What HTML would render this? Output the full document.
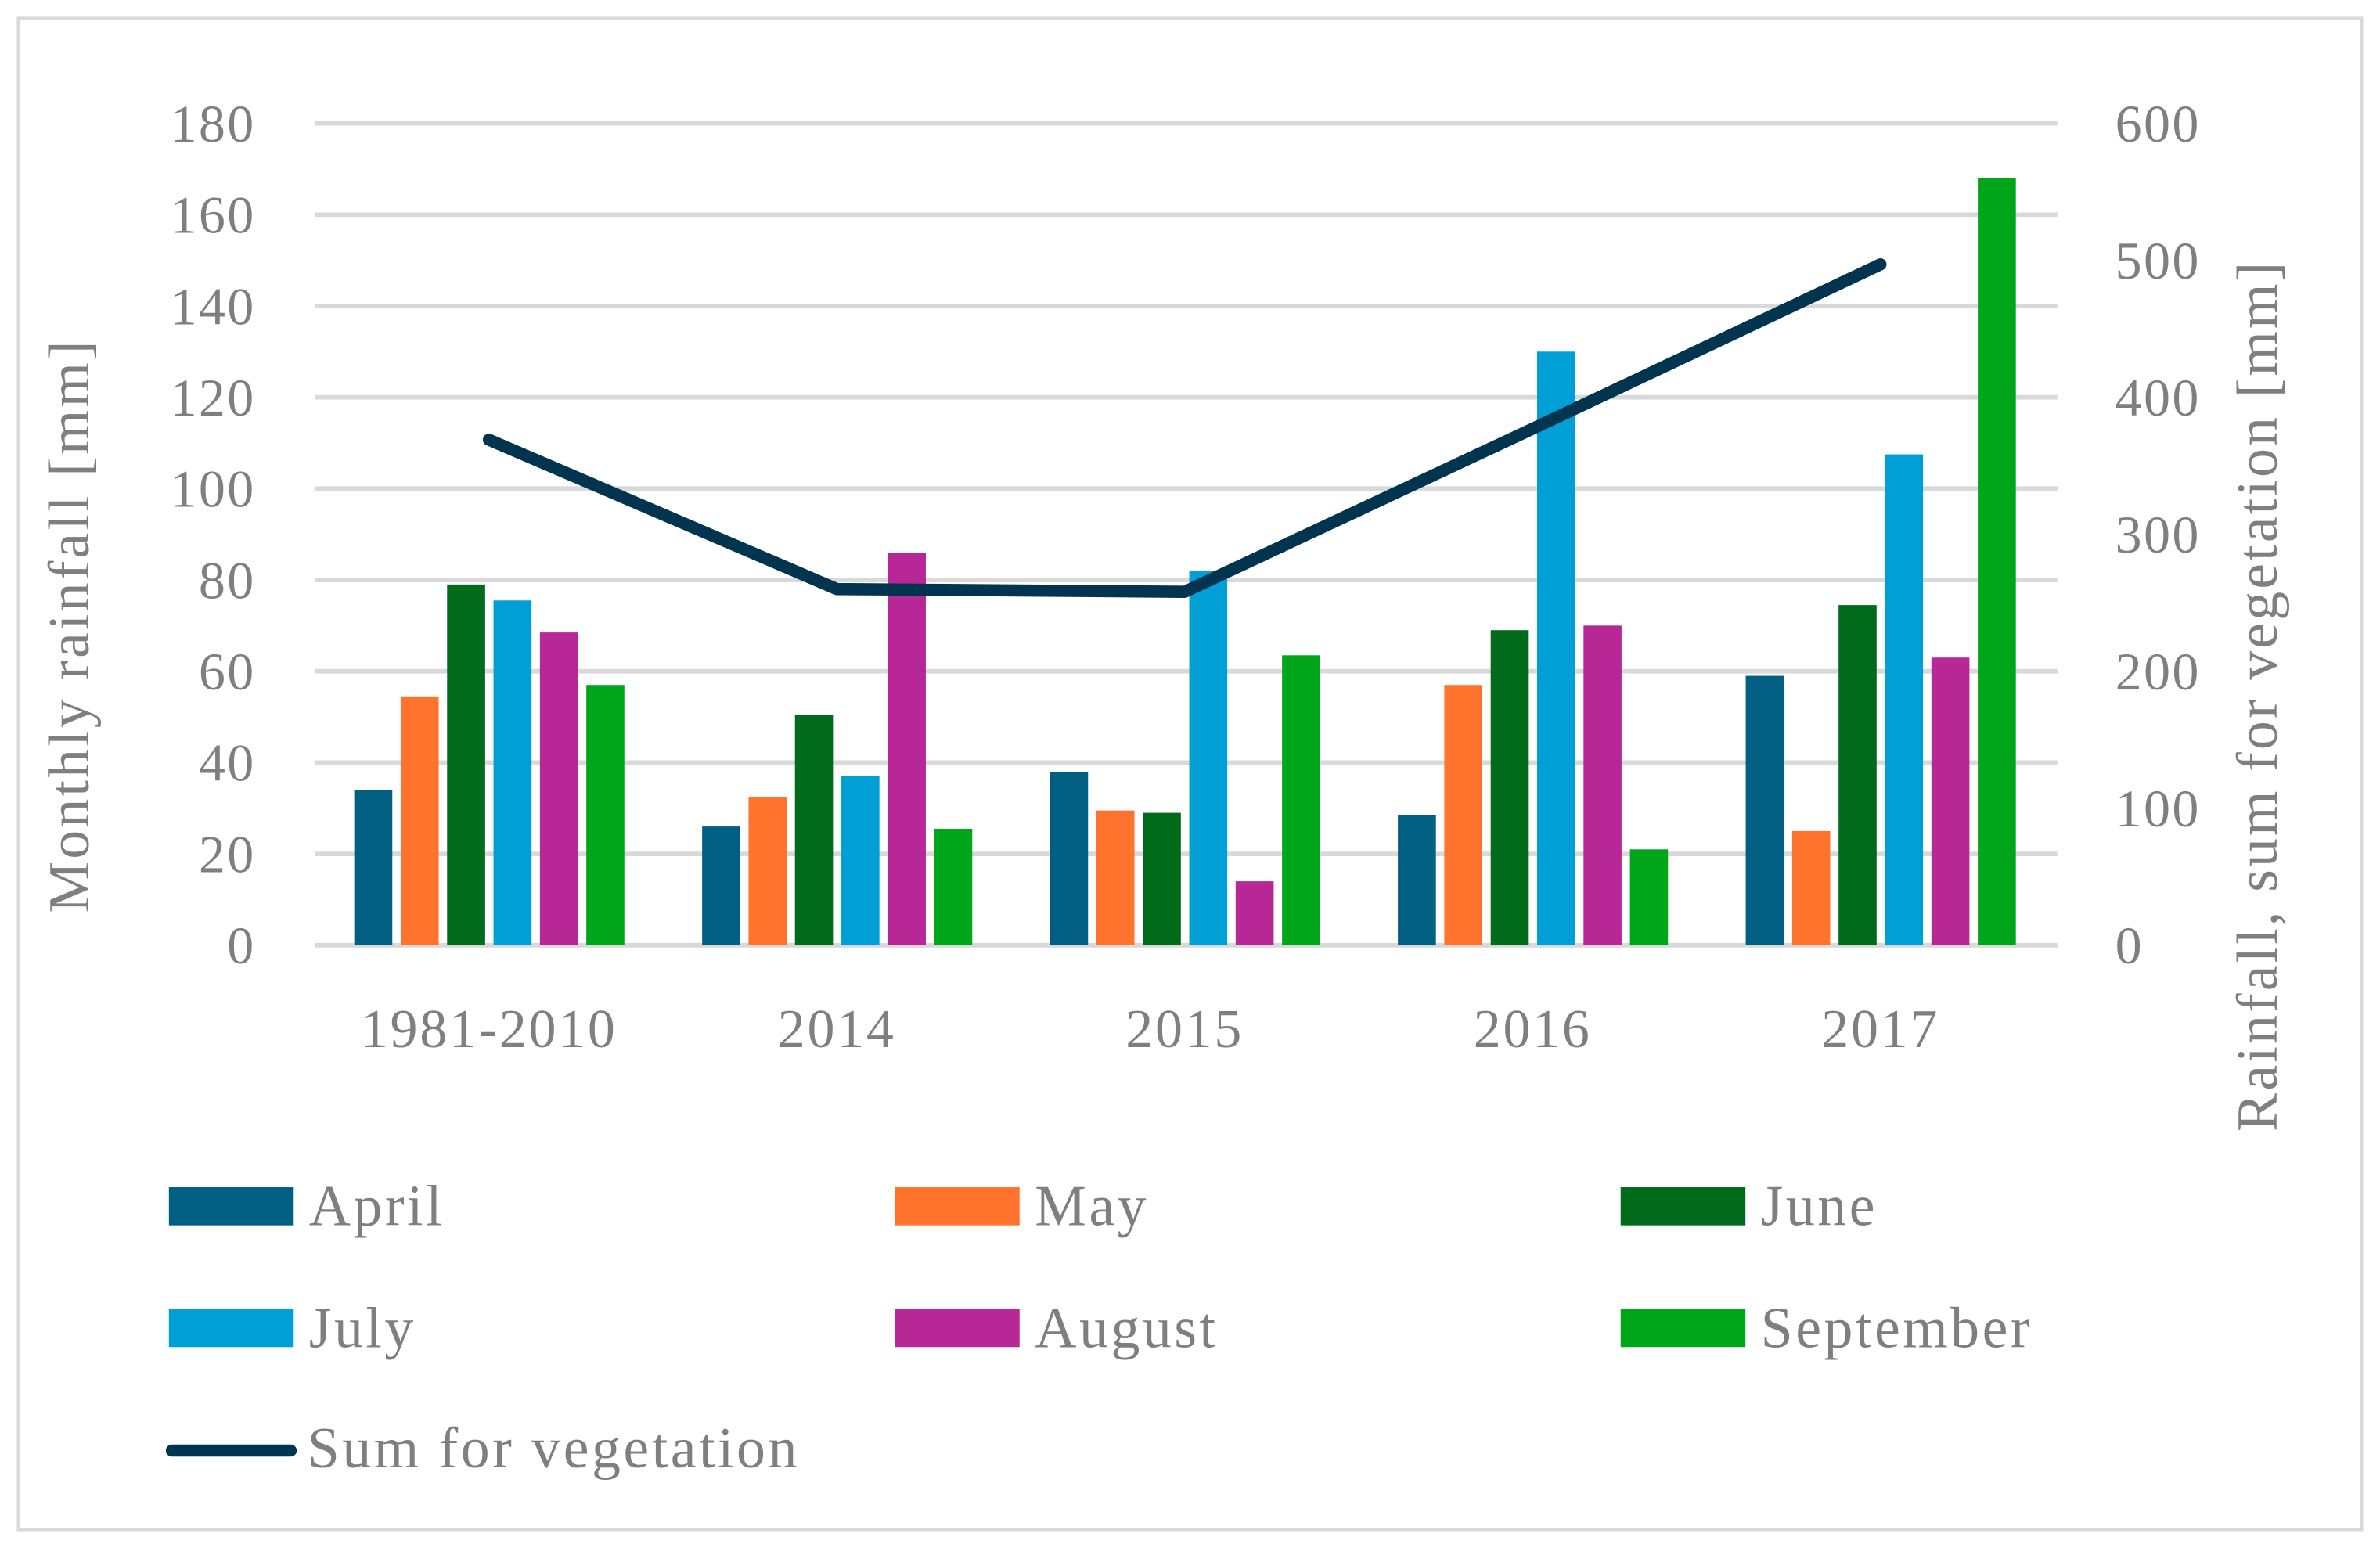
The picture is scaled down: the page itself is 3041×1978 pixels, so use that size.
<!DOCTYPE html>
<html><head><meta charset="utf-8"><style>html,body{margin:0;padding:0;background:#fff}svg{display:block}</style></head>
<body>
<svg id="chart" width="3041" height="1978" viewBox="0 0 1564 1017" preserveAspectRatio="none" xmlns="http://www.w3.org/2000/svg" font-family="'Liberation Serif', serif">
<rect x="12" y="12" width="1540" height="993" fill="#fff" stroke="#d9d9d9" stroke-width="2"/>
<g id="grid"></g><g id="bars"></g><g id="line"></g><g id="labels"></g>
<text transform="translate(58,411) rotate(-90)" text-anchor="middle" font-size="38" letter-spacing="1.6" fill="#7f7f7f">Monthly rainfall [mm]</text>
<text transform="translate(1496,457) rotate(-90)" text-anchor="middle" font-size="38" letter-spacing="1.6" fill="#7f7f7f">Rainfall, sum for vegetation [mm]</text>
<g id="legend"></g>
</svg>
<script>
const categories = ["1981-2010","2014","2015","2016","2017"];
const seriesNames = ["April","May","June","July","August","September"];
const april = [34, 26, 38, 28.5, 59];
const may = [54.5, 32.5, 29.5, 57, 25];
const june = [79, 50.5, 29, 69, 74.5];
const july = [75.5, 37, 82, 130, 107.5];
const august = [68.5, 86, 14, 70, 63];
const september = [57, 25.5, 63.5, 21, 168];
const sumVegetation = [369, 260, 258, 377, 497];
const leftTicks = [0,20,40,60,80,100,120,140,160,180];
const rightTicks = [0,100,200,300,400,500,600];

const colors = ["#005f83","#ff732c","#006b1b","#00a0d6","#b72795","#00a619"];
const series = [april, may, june, july, august, september];
const NS = "http://www.w3.org/2000/svg";
const x0 = 207, x1 = 1350, yTop = 81, yBot = 621;
const band = (x1 - x0) / categories.length;
const yL = v => yBot - (v / 180) * (yBot - yTop);
const yR = v => yBot - (v / 600) * (yBot - yTop);
const xC = i => x0 + band * (i + 0.5);
function mk(tag, attrs, parent) { const e = document.createElementNS(NS, tag); for (const k in attrs) e.setAttribute(k, attrs[k]); parent.appendChild(e); return e; }
const G = document.getElementById("grid"), B = document.getElementById("bars"), L = document.getElementById("line"), T = document.getElementById("labels"), LG = document.getElementById("legend");
leftTicks.forEach(v => {
  const l = mk("line", {x1: x0, x2: 1352, y1: yL(v), y2: yL(v), stroke: "#d9d9d9", "stroke-width": 3}, G);
  
  
  const t = mk("text", {x: 168, y: yL(v) + 12, "text-anchor": "end", "font-size": 35, "letter-spacing": 1.2, fill: "#7f7f7f"}, T);
  t.textContent = v;
  
  
});
rightTicks.forEach(v => {
  const t = mk("text", {x: 1390, y: yR(v) + 12, "font-size": 35, "letter-spacing": 1.2, fill: "#7f7f7f"}, T);
  t.textContent = v;
  
  
});
categories.forEach((c, i) => {
  const t = mk("text", {x: xC(i), y: 688, "text-anchor": "middle", "font-size": 36, "letter-spacing": 1.4, fill: "#7f7f7f"}, T);
  t.textContent = c;
  
  
});
const bw = 25, step = 30.5;
series.forEach((arr, s) => {
  arr.forEach((v, i) => {
    const x = xC(i) - 88.5 + s * step;
    const r = mk("rect", {x: x, y: yL(v), width: bw, height: yBot - yL(v), fill: colors[s]}, B);
    
    
  });
});
const pts = sumVegetation.map((v, i) => xC(i) + "," + yR(v)).join(" ");
const pl = mk("polyline", {points: pts, fill: "none", stroke: "#00344f", "stroke-width": 8, "stroke-linecap": "round", "stroke-linejoin": "round"}, L);


const legCols = [111, 588, 1065], legRows = [780, 860];
seriesNames.forEach((n, s) => {
  const cx = legCols[s % 3], cy = legRows[Math.floor(s / 3)];
  const r = mk("rect", {x: cx, y: cy, width: 82, height: 25, fill: colors[s]}, LG);
  
  
  const t = mk("text", {x: cx + 92, y: cy + 25, "font-size": 38, "letter-spacing": 1.8, fill: "#7f7f7f"}, LG);
  t.textContent = n;
  
  
});
const ll = mk("line", {x1: 113, x2: 191, y1: 953, y2: 953, stroke: "#00344f", "stroke-width": 8, "stroke-linecap": "round"}, LG);


const lt = mk("text", {x: 202, y: 964, "font-size": 38, "letter-spacing": 1.8, fill: "#7f7f7f"}, LG);
lt.textContent = "Sum for vegetation";


</script>
</body></html>
